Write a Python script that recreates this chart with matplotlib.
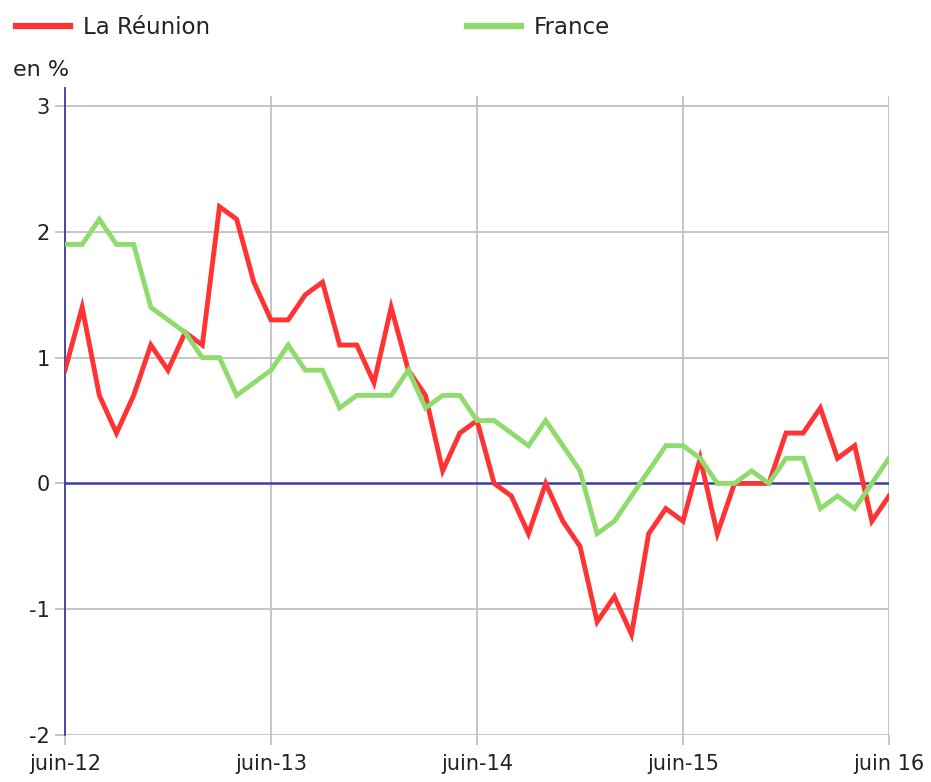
import numpy as np
import matplotlib
matplotlib.use("Agg")
import matplotlib.pyplot as plt
from matplotlib.lines import Line2D

plt.rcParams["axes.unicode_minus"] = False

# monthly values, juin 2012 -> juin 2016 (en %)
reunion = [0.9, 1.4, 0.7, 0.4, 0.7, 1.1, 0.9, 1.2, 1.1, 2.2, 2.1, 1.6,
           1.3, 1.3, 1.5, 1.6, 1.1, 1.1, 0.8, 1.4, 0.9, 0.7, 0.1, 0.4,
           0.5, 0.0, -0.1, -0.4, 0.0, -0.3, -0.5, -1.1, -0.9, -1.2, -0.4, -0.2,
           -0.3, 0.2, -0.4, 0.0, 0.0, 0.0, 0.4, 0.4, 0.6, 0.2, 0.3, -0.3,
           -0.1]
france = [1.9, 1.9, 2.1, 1.9, 1.9, 1.4, 1.3, 1.2, 1.0, 1.0, 0.7, 0.8,
          0.9, 1.1, 0.9, 0.9, 0.6, 0.7, 0.7, 0.7, 0.9, 0.6, 0.7, 0.7,
          0.5, 0.5, 0.4, 0.3, 0.5, 0.3, 0.1, -0.4, -0.3, -0.1, 0.1, 0.3,
          0.3, 0.2, 0.0, 0.0, 0.1, 0.0, 0.2, 0.2, -0.2, -0.1, -0.2, 0.0,
          0.2]
tick_months = [0, 12, 24, 36, 48]
tick_labels = ["juin-12", "juin-13", "juin-14", "juin-15", "juin 16"]
y_ticks = [-2, -1, 0, 1, 2, 3]

red = "#ff3333"
green = "#8fdc6e"
navy = "#3c3ca0"
grid = "#c0c0c0"

fig = plt.figure(figsize=(9.31, 7.82), dpi=100)
ax = fig.add_axes([65 / 931, 47 / 782, 824 / 931, 639 / 782])

x = np.arange(len(reunion))
ax.set_xlim(0, 48)
ax.set_ylim(-2, 3.08)

for t in tick_months:
    ax.axvline(t, color=grid, lw=1.3, zorder=1)
for v in y_ticks:
    if v != 0:
        ax.axhline(v, color=grid, lw=1.3, zorder=1)
ax.axhline(0, color=navy, lw=1.8, zorder=2)

ax.plot(x, reunion, color=red, lw=3.5, zorder=3, solid_joinstyle="miter")
ax.plot(x, france, color=green, lw=3.5, zorder=4, solid_joinstyle="miter")

for s in ["top", "right", "bottom"]:
    ax.spines[s].set_visible(False)
ax.spines["left"].set_color(navy)
ax.spines["left"].set_linewidth(1.3)
ax.spines["left"].set_bounds(-2, 3.14)

ax.set_xticks(tick_months)
ax.set_xticklabels(tick_labels)
ax.set_yticks(y_ticks)
ax.tick_params(axis="both", colors=grid, labelcolor="#222222", labelsize=15,
               length=7, width=1.3)
ax.tick_params(axis="x", pad=7)
ax.tick_params(axis="y", pad=4)

fig.text(13 / 931, (782 - 70) / 782, "en %", fontsize=16, va="center",
         color="#222222")

handles = [Line2D([], [], color=red, lw=4.5), Line2D([], [], color=green, lw=4.5)]
fig.legend(handles, ["La Réunion", "France"], ncol=2, loc="center left",
           bbox_to_anchor=(16 / 931, (782 - 28) / 782), frameon=False,
           fontsize=16.5, handlelength=2.36, handletextpad=0.57,
           columnspacing=11.2, borderpad=0, borderaxespad=0,
           labelcolor="#222222")

fig.savefig("out.png", dpi=100)
